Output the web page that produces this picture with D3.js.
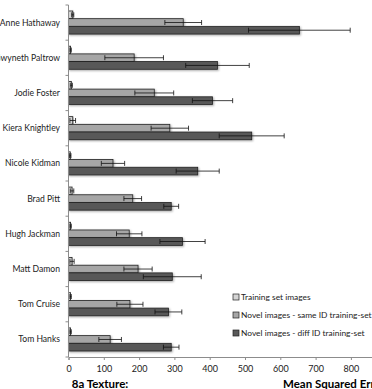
<!DOCTYPE html>
<html>
<head>
<meta charset="utf-8">
<script src="https://cdn.jsdelivr.net/npm/d3@7"></script>
<style>
body { margin: 0; background: #fff; }
svg { display: block; font-family: Lato, "Noto Sans", sans-serif; }
</style>
</head>
<body>
<script>
var names = ["Anne Hathaway", "Gwyneth Paltrow", "Jodie Foster", "Kiera Knightley", "Nicole Kidman",
    "Brad Pitt", "Hugh Jackman", "Matt Damon", "Tom Cruise", "Tom Hanks"];
var seriesNames = ["Training set images", "Novel images - same ID training-set", "Novel images - diff ID training-set"];
var seriesColors = ["#d4d4d4", "#a6a6a6", "#595959"];

var trainMean = [12, 6, 8, 12, 5, 10, 6, 10, 6, 6];
var trainErr = [3, 2, 3, 8, 2, 5, 2, 6, 2, 2];
var sameMean = [325, 186, 243, 287, 126, 182, 172, 197, 174, 118];
var sameErr = [52, 83, 55, 53, 33, 25, 36, 40, 37, 32];
var diffMean = [654, 422, 408, 519, 366, 291, 323, 294, 283, 291];
var diffErr = [144, 90, 57, 92, 61, 21, 64, 82, 38, 22];
var xTicks = [0, 100, 200, 300, 400, 500, 600, 700, 800];

var width = 372, height = 389;
var margin = {left: 68.5, top: 5, bottom: 32};

var svg = d3.select("body").append("svg")
    .attr("width", width)
    .attr("height", height);

var defs = svg.append("defs");
var f = defs.append("filter").attr("id", "shadow")
    .attr("x", "-5%").attr("y", "-20%").attr("width", "115%").attr("height", "160%");
f.append("feDropShadow").attr("dx", 1).attr("dy", 1).attr("stdDeviation", 0.8)
    .attr("flood-color", "#000").attr("flood-opacity", 0.35);

var x = d3.scaleLinear()
    .domain([0, 900])
    .range([margin.left, margin.left + 900 * 0.353]);

var y = d3.scaleBand()
    .domain(names)
    .range([margin.top, height - margin.bottom])
    .paddingInner(0.345)
    .paddingOuter(0.17);

var sub = d3.scaleBand()
    .domain([0, 1, 2])
    .range([0, y.bandwidth()]);

var data = names.map((n, i) => ({
    name: n,
    vals: [
        {k: 0, m: trainMean[i], e: trainErr[i]},
        {k: 1, m: sameMean[i], e: sameErr[i]},
        {k: 2, m: diffMean[i], e: diffErr[i]}
    ]
}));

var axisY = height - margin.bottom;

// bars
var groups = svg.selectAll(".grp")
    .data(data)
    .enter().append("g")
    .attr("class", "grp")
    .attr("transform", d => `translate(0, ${y(d.name)})`);

groups.selectAll("rect")
    .data(d => d.vals)
    .enter().append("rect")
    .attr("x", x(0))
    .attr("y", d => sub(d.k))
    .attr("width", d => x(d.m) - x(0))
    .attr("height", sub.bandwidth())
    .attr("fill", d => seriesColors[d.k])
    .attr("stroke", "#222")
    .attr("stroke-width", 0.8)
    .attr("filter", "url(#shadow)");

// error bars
var eb = groups.selectAll(".err")
    .data(d => d.vals)
    .enter().append("g")
    .attr("class", "err")
    .attr("stroke", "#111")
    .attr("stroke-width", 0.8);

eb.append("line")
    .attr("x1", d => x(d.m - d.e))
    .attr("x2", d => x(d.m + d.e))
    .attr("y1", d => sub(d.k) + sub.bandwidth() / 2)
    .attr("y2", d => sub(d.k) + sub.bandwidth() / 2);
[-1, 1].forEach(s => {
    eb.append("line")
        .attr("x1", d => x(d.m + s * d.e))
        .attr("x2", d => x(d.m + s * d.e))
        .attr("y1", d => sub(d.k) + sub.bandwidth() / 2 - 2.5)
        .attr("y2", d => sub(d.k) + sub.bandwidth() / 2 + 2.5);
});

// y axis
var yAxisG = svg.append("g");
yAxisG.append("line")
    .attr("x1", x(0)).attr("x2", x(0))
    .attr("y1", margin.top).attr("y2", axisY)
    .attr("stroke", "#8c8c8c");
var bounds = d3.range(names.length + 1).map(i => margin.top + i * (axisY - margin.top) / names.length);
yAxisG.selectAll(".yt")
    .data(bounds)
    .enter().append("line")
    .attr("x1", x(0) - 3).attr("x2", x(0))
    .attr("y1", d => d).attr("y2", d => d)
    .attr("stroke", "#8c8c8c");
yAxisG.selectAll(".yl")
    .data(names)
    .enter().append("text")
    .attr("x", 60)
    .attr("y", d => y(d) + y.bandwidth() / 2)
    .attr("dy", "0.35em")
    .attr("text-anchor", "end")
    .attr("font-size", "8.6px")
    .attr("fill", "#222")
    .text(d => d);

// x axis
var xAxis = d3.axisBottom(x)
    .tickValues(xTicks)
    .tickSize(3)
    .tickPadding(6);
var xg = svg.append("g")
    .attr("transform", `translate(0, ${axisY})`)
    .call(xAxis);
xg.select(".domain").attr("stroke", "#8c8c8c");
xg.selectAll(".tick line").attr("stroke", "#8c8c8c");
xg.selectAll("text")
    .attr("font-size", "9px")
    .attr("font-family", "Lato, sans-serif")
    .attr("fill", "#222");

// titles
svg.append("text")
    .attr("x", 100)
    .attr("y", 388)
    .attr("text-anchor", "middle")
    .attr("font-size", "11.5px")
    .attr("font-weight", "bold")
    .text("8a Texture:");
svg.append("text")
    .attr("x", 283)
    .attr("y", 388)
    .attr("font-size", "11.5px")
    .attr("font-weight", "bold")
    .text("Mean Squared Error");

// legend
var legend = svg.selectAll(".leg")
    .data(seriesNames)
    .enter().append("g")
    .attr("class", "leg")
    .attr("transform", (d, i) => `translate(233, ${294 + i * 18})`);
legend.append("rect")
    .attr("width", 6).attr("height", 6)
    .attr("fill", (d, i) => seriesColors[i])
    .attr("stroke", "#222")
    .attr("stroke-width", 0.7);
legend.append("text")
    .attr("x", 8)
    .attr("y", 3)
    .attr("dy", "0.35em")
    .attr("font-size", "8.4px")
    .attr("fill", "#222")
    .text(d => d);
</script>
</body>
</html>
